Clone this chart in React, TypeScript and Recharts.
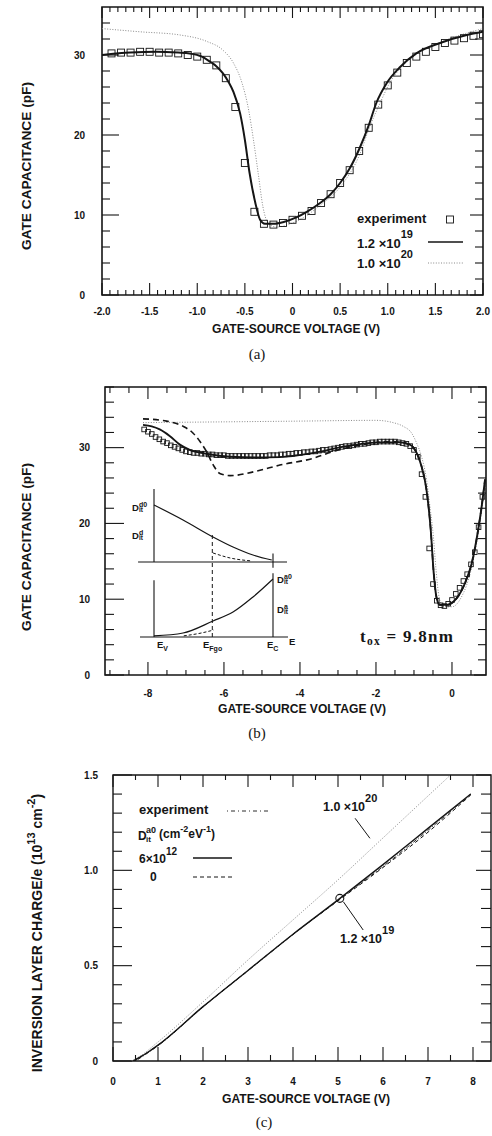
import React from 'react';
import { ComposedChart, Line, XAxis, YAxis, ReferenceArea, ReferenceDot, ReferenceLine } from 'recharts';

const SANS = "'Liberation Sans', Arial, Helvetica, sans-serif";
const SERIF = "'Liberation Serif', 'Times New Roman', serif";
const INK = '#151515';
const GRAY = '#8a8a8a';

// ================= Panel (a) =================
const aExpV = [-1.9, -1.8, -1.7, -1.6, -1.5, -1.4, -1.3, -1.2, -1.1, -1.0, -0.9, -0.8, -0.7, -0.6, -0.5, -0.4, -0.3, -0.2, -0.1, 0.0, 0.1, 0.2, 0.3, 0.4, 0.5, 0.6, 0.7, 0.8, 0.9, 1.0, 1.1, 1.2, 1.3, 1.4, 1.5, 1.6, 1.7, 1.8, 1.9, 2.0];
const aExpC = [30.2, 30.3, 30.3, 30.4, 30.4, 30.3, 30.3, 30.2, 30.0, 29.8, 29.4, 28.7, 27.1, 23.5, 16.5, 10.4, 8.9, 8.8, 9.0, 9.4, 9.9, 10.5, 11.5, 12.6, 14.0, 15.6, 18.0, 20.9, 23.8, 26.2, 27.8, 29.0, 29.8, 30.4, 31.0, 31.5, 31.8, 32.1, 32.4, 32.6];
const aFit19V = [-2.0, -1.7, -1.43, -1.2, -1.08, -0.95, -0.87, -0.8, -0.73, -0.67, -0.62, -0.55, -0.5, -0.45, -0.39, -0.34, -0.29, -0.2, -0.1, 0.04, 0.15, 0.29, 0.4, 0.5, 0.6, 0.71, 0.8, 0.88, 0.99, 1.13, 1.3, 1.55, 1.83, 2.0];
const aFit19C = [30.0, 30.3, 30.4, 30.3, 30.2, 29.8, 29.2, 28.6, 27.7, 26.6, 25.4, 22.7, 19.4, 15.2, 11.5, 9.4, 8.9, 8.9, 9.1, 9.7, 10.4, 11.5, 12.6, 14.0, 15.8, 18.5, 21.2, 24.0, 26.5, 28.5, 30.2, 31.5, 32.5, 32.9];
const aFit20V = [-2.0, -1.6, -1.18, -0.9, -0.73, -0.62, -0.53, -0.46, -0.41, -0.36, -0.31, -0.25, -0.17, 0.04, 0.29, 0.5, 0.71, 0.81, 0.92, 1.02, 1.16, 1.34, 1.62, 2.0];
const aFit20C = [33.3, 32.9, 32.5, 31.7, 30.6, 29.0, 26.5, 23.1, 19.4, 15.2, 11.0, 8.9, 8.5, 9.2, 11.2, 13.5, 17.7, 21.0, 24.0, 26.5, 28.7, 30.4, 31.9, 33.3];
const aXMajors = [-2, -1.5, -1, -0.5, 0, 0.5, 1, 1.5, 2];
const aXLabels = ['-2.0', '-1.5', '-1.0', '-0.5', '0', '0.5', '1.0', '1.5', '2.0'];
const aYMajors = [0, 10, 20, 30];
const aYLabels = ['0', '10', '20', '30'];
const aXTicks = Array.from({ length: 49 }, (_, k) => -2 + k / 12);
const aYTicks = Array.from({ length: 18 }, (_, k) => k * 2);

// ================= Panel (b) =================
const bExpV = [-8.1, -8.0, -7.9, -7.8, -7.7, -7.6, -7.5, -7.4, -7.3, -7.2, -7.1, -7.0, -6.9, -6.8, -6.7, -6.6, -6.5, -6.4, -6.3, -6.2, -6.1, -6.0, -5.9, -5.8, -5.7, -5.6, -5.5, -5.4, -5.3, -5.2, -5.1, -5.0, -4.9, -4.8, -4.7, -4.6, -4.5, -4.4, -4.3, -4.2, -4.1, -4.0, -3.9, -3.8, -3.7, -3.6, -3.5, -3.4, -3.3, -3.2, -3.1, -3.0, -2.9, -2.8, -2.7, -2.6, -2.5, -2.4, -2.3, -2.2, -2.1, -2.0, -1.9, -1.8, -1.7, -1.6, -1.5, -1.4, -1.3, -1.2, -1.1, -1.0, -0.9, -0.8, -0.7, -0.6, -0.5, -0.4, -0.3, -0.2, -0.1, 0.0, 0.1, 0.2, 0.3, 0.4, 0.5, 0.6, 0.7, 0.8];
const bExpC = [32.4, 32.1, 31.8, 31.4, 31.1, 30.8, 30.6, 30.3, 30.1, 29.9, 29.7, 29.5, 29.4, 29.3, 29.3, 29.2, 29.2, 29.1, 29.1, 29.0, 29.0, 29.0, 28.9, 28.9, 28.9, 28.9, 28.9, 28.9, 28.9, 28.9, 28.9, 28.9, 28.9, 29.0, 29.0, 29.0, 29.1, 29.1, 29.2, 29.2, 29.3, 29.3, 29.4, 29.4, 29.5, 29.5, 29.6, 29.7, 29.7, 29.8, 29.9, 30.0, 30.1, 30.2, 30.2, 30.3, 30.4, 30.5, 30.5, 30.6, 30.7, 30.7, 30.8, 30.8, 30.8, 30.8, 30.8, 30.7, 30.6, 30.5, 30.2, 29.7, 28.8, 26.5, 23.5, 16.7, 12.0, 9.8, 9.2, 9.1, 9.4, 9.9, 10.7, 11.5, 12.4, 13.3, 14.6, 16.2, 19.5, 23.5];
const bSolidV = [-8.13, -7.9, -7.69, -7.42, -7.16, -6.9, -6.46, -5.84, -5.14, -4.53, -3.65, -2.77, -1.9, -1.37, -1.11, -0.93, -0.8, -0.67, -0.56, -0.48, -0.41, -0.32, -0.14, 0.12, 0.34, 0.52, 0.69, 0.78, 0.87];
const bSolidC = [33.0, 32.8, 32.4, 31.5, 30.4, 29.7, 29.2, 28.8, 28.7, 28.75, 29.3, 30.2, 30.7, 30.7, 30.4, 29.3, 27.5, 24.4, 19.2, 13.4, 10.3, 9.25, 9.25, 10.1, 12.1, 14.75, 19.2, 22.2, 25.8];
const bDashV = [-8.13, -7.51, -7.07, -6.81, -6.63, -6.46, -6.28, -6.11, -5.84, -5.14, -4.53, -3.65, -3.13, -2.34, -1.63, -1.37, -1.11, -0.93, -0.8, -0.67, -0.56, -0.48, -0.41, -0.32, -0.14, 0.12, 0.34, 0.52, 0.69, 0.78, 0.87];
const bDashC = [33.8, 33.5, 32.8, 31.9, 30.8, 29.5, 27.7, 26.6, 26.3, 26.9, 27.7, 28.6, 29.5, 30.4, 30.8, 30.7, 30.4, 29.3, 27.5, 24.4, 19.2, 13.4, 10.3, 9.25, 9.25, 10.1, 12.1, 14.75, 19.2, 22.2, 25.8];
const bDotV = [-8.13, -6.0, -4.0, -2.0, -1.55, -1.28, -1.06, -0.93, -0.8, -0.67, -0.58, -0.49, -0.42, -0.34, -0.23, 0.0, 0.25, 0.5, 0.69, 0.87];
const bDotC = [33.3, 33.4, 33.5, 33.6, 33.3, 32.8, 31.9, 30.6, 28.8, 25.8, 22.2, 18.3, 13.9, 10.3, 9.0, 9.0, 10.3, 13.8, 18.6, 25.0];
const bXMajors = [-8, -6, -4, -2, 0];
const bXLabels = ['-8', '-6', '-4', '-2', '0'];
const bYMajors = [0, 10, 20, 30];
const bYLabels = ['0', '10', '20', '30'];
const bXTicks = Array.from({ length: 20 }, (_, k) => -9 + k * 0.5);
const bYTicks = Array.from({ length: 20 }, (_, k) => k * 2);

// inset schematic (energy E: Ev=0, Ec=1; densities normalised)
const insDonorE = [0, 0.244, 0.496, 0.664, 0.832, 0.99];
const insDonorD = [1.0, 0.737, 0.439, 0.263, 0.123, 0.035];
const insDonorOccE = [0.496, 0.64, 0.81];
const insDonorOccD = [0.158, 0.07, 0.02];
const insAccE = [0, 0.244, 0.496, 0.664, 0.832, 1.0];
const insAccD = [0.02, 0.069, 0.276, 0.43, 0.69, 1.0];
const insAccOccE = [0.25, 0.4, 0.5];
const insAccOccD = [0.02, 0.07, 0.12];

// ================= Panel (c) =================
const cExpV = [0.5, 1.0, 2.0, 3.0, 4.0, 5.0, 6.0, 7.0, 7.95];
const cExpQ = [0.0, 0.08, 0.283, 0.473, 0.663, 0.843, 1.02, 1.21, 1.4];
const cD6V = [0.45, 0.6, 0.8, 1.0, 2.0, 3.0, 4.0, 5.0, 6.0, 7.0, 7.95];
const cD6Q = [0.0, 0.02, 0.05, 0.083, 0.285, 0.475, 0.665, 0.845, 1.03, 1.22, 1.4];
const cD0V = [0.45, 0.6, 0.8, 1.0, 2.0, 3.0, 4.0, 5.0, 6.0, 7.0, 7.95];
const cD0Q = [0.0, 0.02, 0.05, 0.083, 0.285, 0.475, 0.665, 0.84, 1.015, 1.2, 1.395];
const c20V = [0.4, 0.6, 1.0, 2.0, 3.0, 4.0, 5.0, 6.0, 7.0, 7.5];
const c20Q = [0.0, 0.025, 0.1, 0.31, 0.53, 0.74, 0.95, 1.17, 1.39, 1.5];
const cXMajors = [0, 1, 2, 3, 4, 5, 6, 7, 8];
const cXLabels = ['0', '1', '2', '3', '4', '5', '6', '7', '8'];
const cYMajors = [0, 0.5, 1.0, 1.5];
const cYLabels = ['0', '0.5', '1.0', '1.5'];
const cXTicks = Array.from({ length: 17 }, (_, k) => k * 0.5);
const cYTicks = Array.from({ length: 16 }, (_, k) => Math.round(k * 10) / 100);

const zip = (xs: number[], ys: number[]) => xs.map((x, i) => ({ x, y: ys[i] }));

type Side = 'bottom' | 'top' | 'left' | 'right';
interface TickCfg { side: Side; majors: number[]; labels?: string[]; minorLen: number; majorLen: number; gap?: number; fontSize?: number; }

function makeTick(c: TickCfg) {
  return (p: any) => {
    const x = Number(p.x);
    const y = Number(p.y);
    const v = Number(p.payload && p.payload.value);
    const idx = c.majors.findIndex((m) => Math.abs(m - v) < 1e-6);
    const big = idx >= 0;
    const len = big ? c.majorLen : c.minorLen;
    let x2 = x;
    let y2 = y;
    if (c.side === 'bottom') y2 = y - len;
    else if (c.side === 'top') y2 = y + len;
    else if (c.side === 'left') x2 = x + len;
    else x2 = x - len;
    const lab = big && c.labels ? c.labels[idx] : null;
    const fs = c.fontSize || 10;
    const gap = c.gap || 0;
    return (
      <g>
        <line x1={x} y1={y} x2={x2} y2={y2} stroke={INK} strokeWidth={1.1} />
        {lab != null && c.side === 'bottom' ? (
          <text x={x} y={y + gap} textAnchor="middle" fontFamily={SANS} fontWeight="bold" fontSize={fs} fill={INK}>{lab}</text>
        ) : null}
        {lab != null && c.side === 'left' ? (
          <text x={x - gap} y={y + fs * 0.36} textAnchor="end" fontFamily={SANS} fontWeight="bold" fontSize={fs} fill={INK}>{lab}</text>
        ) : null}
      </g>
    );
  };
}

const squareDot = (size: number) => (p: any) => {
  const { cx, cy, index } = p;
  if (cx == null || cy == null) return <g key={index} />;
  return <rect key={index} x={cx - size / 2} y={cy - size / 2} width={size} height={size} fill="none" stroke={INK} strokeWidth={0.9} />;
};

const xCommon = { type: 'number' as const, dataKey: 'x', allowDataOverflow: true, interval: 0 as const, tickSize: 0, tickMargin: 0, axisLine: false, tickLine: false };
const yCommon = { type: 'number' as const, allowDataOverflow: true, interval: 0 as const, tickSize: 0, tickMargin: 0, axisLine: false, tickLine: false };

const bold = { fontFamily: SANS, fontWeight: 'bold' as const, fill: INK };

// ---------- tick renderers ----------
const aTB = makeTick({ side: 'bottom', majors: aXMajors, labels: aXLabels, minorLen: 5, majorLen: 12, gap: 20 });
const aTT = makeTick({ side: 'top', majors: aXMajors, minorLen: 5, majorLen: 11 });
const aTL = makeTick({ side: 'left', majors: aYMajors, labels: aYLabels, minorLen: 8, majorLen: 17, gap: 17 });
const aTR = makeTick({ side: 'right', majors: aYMajors, minorLen: 8, majorLen: 13 });
const bTB = makeTick({ side: 'bottom', majors: bXMajors, labels: bXLabels, minorLen: 5, majorLen: 13, gap: 22 });
const bTT = makeTick({ side: 'top', majors: bXMajors, minorLen: 6, majorLen: 12 });
const bTL = makeTick({ side: 'left', majors: bYMajors, labels: bYLabels, minorLen: 9, majorLen: 19, gap: 15 });
const bTR = makeTick({ side: 'right', majors: bYMajors, minorLen: 8, majorLen: 12 });
const cTB = makeTick({ side: 'bottom', majors: cXMajors, labels: cXLabels, minorLen: 6, majorLen: 14, gap: 24 });
const cTT = makeTick({ side: 'top', majors: cXMajors, minorLen: 5, majorLen: 12 });
const cTL = makeTick({ side: 'left', majors: cYMajors, labels: cYLabels, minorLen: 9, majorLen: 19, gap: 15 });
const cTR = makeTick({ side: 'right', majors: cYMajors, minorLen: 10, majorLen: 15 });

const B_TOP = 375;
const C_TOP = 760;

function DLab({ x, y, sup }: { x: number; y: number; sup: string }) {
  return (
    <g {...bold}>
      <text x={x} y={y} fontSize={9.5}>D</text>
      <text x={x + 7} y={y - 4} fontSize={7}>{sup}</text>
      <text x={x + 7} y={y + 1} fontSize={6.5}>it</text>
    </g>
  );
}

function ELab({ x, y, sub }: { x: number; y: number; sub: string }) {
  return (
    <text x={x} y={y} fontSize={9.5} {...bold}>E<tspan fontSize={7} dy={2.5}>{sub}</tspan></text>
  );
}

export default function App() {
  const aExp = zip(aExpV, aExpC);
  const aF19 = zip(aFit19V, aFit19C);
  const aF20 = zip(aFit20V, aFit20C);
  const bExp = zip(bExpV, bExpC);
  const bSol = zip(bSolidV, bSolidC);
  const bDash = zip(bDashV, bDashC);
  const bDot = zip(bDotV, bDotC);
  const cExp = zip(cExpV, cExpQ);
  const cD6 = zip(cD6V, cD6Q);
  const cD0 = zip(cD0V, cD0Q);
  const c20 = zip(c20V, c20Q);

  return (
    <div style={{ position: 'absolute', left: 0, top: 0, width: 492, height: 1136, background: '#fff', overflow: 'hidden' }}>
      {/* ================= (a) ================= */}
      <div style={{ position: 'absolute', left: 0, top: 0 }}>
        <ComposedChart width={492} height={370} margin={{ top: 0, right: 0, bottom: 0, left: 0 }}>
          <XAxis xAxisId="b" {...xCommon} domain={[-2, 2]} ticks={aXTicks} height={75} tick={aTB} />
          <XAxis xAxisId="t" orientation="top" {...xCommon} domain={[-2, 2]} ticks={aXTicks} height={7} tick={aTT} />
          <YAxis yAxisId="l" {...yCommon} domain={[0, 36]} ticks={aYTicks} width={102} tick={aTL} />
          <YAxis yAxisId="r" orientation="right" {...yCommon} domain={[0, 36]} ticks={aYTicks} width={9} tick={aTR} />
          <ReferenceArea xAxisId="b" yAxisId="l" x1={-2} x2={2} y1={0} y2={36} fill="none" stroke={INK} strokeWidth={1.6} ifOverflow="visible" />
          <Line xAxisId="b" yAxisId="l" data={aF20} dataKey="y" type="monotone" stroke={GRAY} strokeWidth={1} strokeDasharray="1 1.6" dot={false} activeDot={false} isAnimationActive={false} />
          <Line xAxisId="b" yAxisId="l" data={aF19} dataKey="y" type="monotone" stroke={INK} strokeWidth={2} dot={false} activeDot={false} isAnimationActive={false} />
          <Line xAxisId="b" yAxisId="l" data={aExp} dataKey="y" stroke="none" dot={squareDot(7)} activeDot={false} isAnimationActive={false} />
          {/* legend */}
          <text x={357} y={223} fontSize={13} {...bold}>experiment</text>
          <rect x={446.5} y={216} width={7} height={7} fill="none" stroke={INK} strokeWidth={0.9} />
          <text x={357} y={248} fontSize={13} {...bold}>1.2 ×10<tspan fontSize={11} dy={-10}>19</tspan></text>
          <line x1={428} y1={242} x2={463} y2={242} stroke={INK} strokeWidth={1.6} />
          <text x={357} y={268} fontSize={13} {...bold}>1.0 ×10<tspan fontSize={11} dy={-10}>20</tspan></text>
          <line x1={428} y1={263} x2={463} y2={263} stroke={GRAY} strokeWidth={1} strokeDasharray="1 1.6" />
          {/* titles */}
          <text x={296} y={333} textAnchor="middle" fontSize={12} {...bold} textLength={168} lengthAdjust="spacingAndGlyphs">GATE-SOURCE VOLTAGE (V)</text>
          <text x={31} y={166} textAnchor="middle" fontSize={12.5} {...bold} transform="rotate(-90 31 166)" textLength={168} lengthAdjust="spacingAndGlyphs">GATE CAPACITANCE (pF)</text>
          <text x={257} y={359} textAnchor="middle" fontSize={15} fontFamily={SERIF} fill={INK}>(a)</text>
        </ComposedChart>
      </div>

      {/* ================= (b) ================= */}
      <div style={{ position: 'absolute', left: 0, top: B_TOP }}>
        <ComposedChart width={492} height={380} margin={{ top: 0, right: 0, bottom: 0, left: 0 }}>
          <XAxis xAxisId="b" {...xCommon} domain={[-9.13, 0.895]} ticks={bXTicks} height={80} tick={bTB} />
          <XAxis xAxisId="t" orientation="top" {...xCommon} domain={[-9.13, 0.895]} ticks={bXTicks} height={12} tick={bTT} />
          <YAxis yAxisId="l" {...yCommon} domain={[0, 38]} ticks={bYTicks} width={105} tick={bTL} />
          <YAxis yAxisId="r" orientation="right" {...yCommon} domain={[0, 38]} ticks={bYTicks} width={6} tick={bTR} />
          <XAxis xAxisId="ix" type="number" dataKey="x" domain={[-0.4118, 2.79]} hide mirror height={0} allowDataOverflow />
          <YAxis yAxisId="iyT" type="number" domain={[-1.983, 3.07]} hide mirror width={0} allowDataOverflow />
          <YAxis yAxisId="iyB" type="number" domain={[-0.655, 4.31]} hide mirror width={0} allowDataOverflow />
          <ReferenceArea xAxisId="b" yAxisId="l" x1={-9.13} x2={0.895} y1={0} y2={38} fill="none" stroke={INK} strokeWidth={1.6} ifOverflow="visible" />
          <Line xAxisId="b" yAxisId="l" data={bDot} dataKey="y" type="monotone" stroke={GRAY} strokeWidth={1} strokeDasharray="1 1.6" dot={false} activeDot={false} isAnimationActive={false} />
          <Line xAxisId="b" yAxisId="l" data={bDash} dataKey="y" type="monotone" stroke={INK} strokeWidth={1.6} strokeDasharray="6 4" dot={false} activeDot={false} isAnimationActive={false} />
          <Line xAxisId="b" yAxisId="l" data={bSol} dataKey="y" type="monotone" stroke={INK} strokeWidth={1.9} dot={false} activeDot={false} isAnimationActive={false} />
          <Line xAxisId="b" yAxisId="l" data={bExp} dataKey="y" stroke="none" dot={squareDot(4.6)} activeDot={false} isAnimationActive={false} />
          {/* inset: upper (donor-like) */}
          <Line xAxisId="ix" yAxisId="iyT" data={[{ x: 0, y: 0 }, { x: 0, y: 1.28 }]} dataKey="y" stroke={INK} strokeWidth={1.1} dot={false} activeDot={false} isAnimationActive={false} />
          <Line xAxisId="ix" yAxisId="iyT" data={[{ x: -0.134, y: 0 }, { x: 1.118, y: 0 }]} dataKey="y" stroke={INK} strokeWidth={1.1} dot={false} activeDot={false} isAnimationActive={false} />
          <Line xAxisId="ix" yAxisId="iyT" data={[{ x: 1, y: -0.1 }, { x: 1, y: 0.15 }]} dataKey="y" stroke={INK} strokeWidth={1.1} dot={false} activeDot={false} isAnimationActive={false} />
          <Line xAxisId="ix" yAxisId="iyT" data={zip(insDonorE, insDonorD)} dataKey="y" type="monotone" stroke={INK} strokeWidth={1.2} dot={false} activeDot={false} isAnimationActive={false} />
          <Line xAxisId="ix" yAxisId="iyT" data={zip(insDonorOccE, insDonorOccD)} dataKey="y" type="monotone" stroke={INK} strokeWidth={1} strokeDasharray="3 2" dot={false} activeDot={false} isAnimationActive={false} />
          {/* inset: lower (acceptor-like) */}
          <Line xAxisId="ix" yAxisId="iyB" data={[{ x: 0, y: 0 }, { x: 0, y: 0.98 }]} dataKey="y" stroke={INK} strokeWidth={1.1} dot={false} activeDot={false} isAnimationActive={false} />
          <Line xAxisId="ix" yAxisId="iyB" data={[{ x: -0.118, y: 0 }, { x: 1.126, y: 0 }]} dataKey="y" stroke={INK} strokeWidth={1.1} dot={false} activeDot={false} isAnimationActive={false} />
          <Line xAxisId="ix" yAxisId="iyB" data={[{ x: 1, y: 0 }, { x: 1, y: 1.1 }]} dataKey="y" stroke={INK} strokeWidth={1.1} dot={false} activeDot={false} isAnimationActive={false} />
          <Line xAxisId="ix" yAxisId="iyB" data={zip(insAccE, insAccD)} dataKey="y" type="monotone" stroke={INK} strokeWidth={1.2} dot={false} activeDot={false} isAnimationActive={false} />
          <Line xAxisId="ix" yAxisId="iyB" data={zip(insAccOccE, insAccOccD)} dataKey="y" type="monotone" stroke={INK} strokeWidth={1} strokeDasharray="3 2" dot={false} activeDot={false} isAnimationActive={false} />
          <Line xAxisId="ix" yAxisId="iyB" data={[{ x: 0.49, y: 0 }, { x: 0.49, y: 1.79 }]} dataKey="y" stroke={INK} strokeWidth={1} strokeDasharray="4 3" dot={false} activeDot={false} isAnimationActive={false} />
          <DLab x={132} y={511 - B_TOP} sup="d0" />
          <DLab x={132} y={539 - B_TOP} sup="d" />
          <DLab x={277} y={583 - B_TOP} sup="a0" />
          <DLab x={277} y={613 - B_TOP} sup="a" />
          <ELab x={157} y={648 - B_TOP} sub="V" />
          <ELab x={203} y={648 - B_TOP} sub="Fgo" />
          <ELab x={267} y={648 - B_TOP} sub="C" />
          <text x={289} y={645 - B_TOP} fontSize={9.5} {...bold}>E</text>
          <text x={360} y={642 - B_TOP} fontSize={17} fontFamily={SERIF} fontWeight="bold" fill={INK} textLength={93} lengthAdjust="spacing">t<tspan fontSize={11.5} dy={3}>ox</tspan><tspan dy={-3}> = 9.8nm</tspan></text>
          {/* titles */}
          <text x={302} y={713 - B_TOP} textAnchor="middle" fontSize={12} {...bold} textLength={168} lengthAdjust="spacingAndGlyphs">GATE-SOURCE VOLTAGE (V)</text>
          <text x={31} y={547 - B_TOP} textAnchor="middle" fontSize={12.5} {...bold} transform={`rotate(-90 31 ${547 - B_TOP})`} textLength={168} lengthAdjust="spacingAndGlyphs">GATE CAPACITANCE (pF)</text>
          <text x={257} y={738 - B_TOP} textAnchor="middle" fontSize={15} fontFamily={SERIF} fill={INK}>(b)</text>
        </ComposedChart>
      </div>

      {/* ================= (c) ================= */}
      <div style={{ position: 'absolute', left: 0, top: C_TOP }}>
        <ComposedChart width={492} height={376} margin={{ top: 0, right: 0, bottom: 0, left: 0 }}>
          <XAxis xAxisId="b" {...xCommon} domain={[0, 8.4]} ticks={cXTicks} height={75} tick={cTB} />
          <XAxis xAxisId="t" orientation="top" {...xCommon} domain={[0, 8.4]} ticks={cXTicks} height={15} tick={cTT} />
          <YAxis yAxisId="l" {...yCommon} domain={[0, 1.5]} ticks={cYTicks} width={113} tick={cTL} />
          <YAxis yAxisId="r" orientation="right" {...yCommon} domain={[0, 1.5]} ticks={cYTicks} width={1} tick={cTR} />
          <ReferenceArea xAxisId="b" yAxisId="l" x1={0} x2={8.4} y1={0} y2={1.5} fill="none" stroke={INK} strokeWidth={1.4} ifOverflow="visible" />
          <Line xAxisId="b" yAxisId="l" data={c20} dataKey="y" type="monotone" stroke={GRAY} strokeWidth={1} strokeDasharray="1 1.6" dot={false} activeDot={false} isAnimationActive={false} />
          <Line xAxisId="b" yAxisId="l" data={cD0} dataKey="y" type="monotone" stroke={INK} strokeWidth={1} strokeDasharray="4 3" dot={false} activeDot={false} isAnimationActive={false} />
          <Line xAxisId="b" yAxisId="l" data={cExp} dataKey="y" type="monotone" stroke={INK} strokeWidth={0.9} strokeDasharray="1 2 4 2" dot={false} activeDot={false} isAnimationActive={false} />
          <Line xAxisId="b" yAxisId="l" data={cD6} dataKey="y" type="monotone" stroke={INK} strokeWidth={1.4} dot={false} activeDot={false} isAnimationActive={false} />
          <ReferenceDot xAxisId="b" yAxisId="l" x={5.04} y={0.853} r={4} fill="none" stroke={INK} strokeWidth={1.1} />
          <ReferenceLine xAxisId="b" yAxisId="l" segment={[{ x: 5.38, y: 1.273 }, { x: 5.71, y: 1.168 }]} stroke={INK} strokeWidth={1} />
          <ReferenceLine xAxisId="b" yAxisId="l" segment={[{ x: 5.12, y: 0.835 }, { x: 5.56, y: 0.687 }]} stroke={INK} strokeWidth={1} />
          <text x={323} y={811 - C_TOP} fontSize={12.5} {...bold}>1.0 ×10<tspan fontSize={11} dy={-9}>20</tspan></text>
          <text x={340} y={943 - C_TOP} fontSize={12.5} {...bold}>1.2 ×10<tspan fontSize={11} dy={-9}>19</tspan></text>
          {/* legend */}
          <text x={139} y={814 - C_TOP} fontSize={13} {...bold}>experiment</text>
          <line x1={227} y1={811 - C_TOP} x2={268} y2={811 - C_TOP} stroke={INK} strokeWidth={0.9} strokeDasharray="1 3 4 3" />
          <text x={138} y={840 - C_TOP} fontSize={12} {...bold}>D</text>
          <text x={146} y={833 - C_TOP} fontSize={9} {...bold}>a0</text>
          <text x={146} y={842 - C_TOP} fontSize={8} {...bold}>it</text>
          <text x={159} y={838 - C_TOP} fontSize={12} {...bold}>(cm<tspan fontSize={9} dy={-6}>-2</tspan><tspan dy={6}>eV</tspan><tspan fontSize={9} dy={-6}>-1</tspan><tspan dy={6}>)</tspan></text>
          <text x={139} y={863 - C_TOP} fontSize={12} {...bold}>6×10<tspan fontSize={10} dy={-8}>12</tspan></text>
          <line x1={193} y1={858 - C_TOP} x2={232} y2={858 - C_TOP} stroke={INK} strokeWidth={1.4} />
          <text x={150} y={881 - C_TOP} fontSize={12} {...bold}>0</text>
          <line x1={193} y1={877 - C_TOP} x2={232} y2={877 - C_TOP} stroke={INK} strokeWidth={1} strokeDasharray="4 3" />
          {/* titles */}
          <text x={306} y={1103 - C_TOP} textAnchor="middle" fontSize={12} {...bold} textLength={168} lengthAdjust="spacingAndGlyphs">GATE-SOURCE VOLTAGE (V)</text>
          <text x={42} y={933 - C_TOP} textAnchor="middle" fontSize={14} {...bold} transform={`rotate(-90 42 ${933 - C_TOP})`}>INVERSION LAYER CHARGE/e (10<tspan fontSize={11} dy={-7}>13</tspan><tspan dy={7}> cm</tspan><tspan fontSize={11} dy={-7}>-2</tspan><tspan dy={7}>)</tspan></text>
          <text x={264} y={1127 - C_TOP} textAnchor="middle" fontSize={15} fontFamily={SERIF} fill={INK}>(c)</text>
        </ComposedChart>
      </div>
    </div>
  );
}
